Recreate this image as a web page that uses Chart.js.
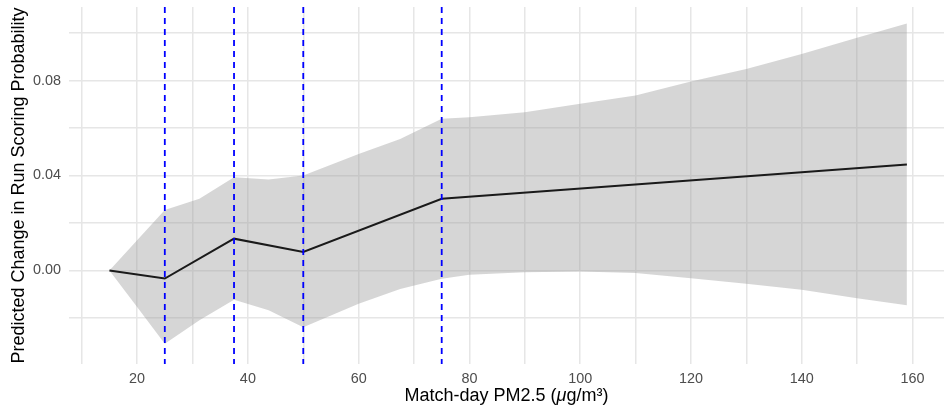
<!DOCTYPE html>
<html>
<head>
<meta charset="utf-8">
<script src="https://cdn.jsdelivr.net/npm/chart.js@4"></script>
<style>
  html, body { margin: 0; padding: 0; background: #fff; }
  #wrap { width: 944px; height: 408px; }
</style>
</head>
<body>
<div id="wrap"><canvas id="pmChart"></canvas></div>
<script>
// fitted effect at each PM2.5 level
const pm25 = [15, 25, 37.5, 50, 75, 159];
const effect = [0, -0.0034, 0.0134, 0.0078, 0.0302, 0.0446];

// confidence band
const bandX = [15, 20, 25, 31.25, 37.5, 43.75, 50, 60, 67.5, 75, 80, 90, 100, 110, 120, 130, 140, 150, 159];
const bandUpper = [0, 0.0127, 0.0255, 0.0302, 0.0393, 0.0383, 0.0400, 0.0491, 0.0554, 0.0639, 0.0646, 0.0667, 0.0702, 0.0737, 0.0796, 0.0849, 0.0912, 0.0980, 0.1041];
const bandLower = [0, -0.0154, -0.0309, -0.0210, -0.0123, -0.0168, -0.0239, -0.0140, -0.0078, -0.0035, -0.0018, -0.0007, -0.0004, -0.0011, -0.0033, -0.0056, -0.0081, -0.0117, -0.0147];

// spline knots (dashed lines)
const knots = [25, 37.5, 50, 75];

const xTicks = [10, 20, 30, 40, 50, 60, 70, 80, 90, 100, 110, 120, 130, 140, 150, 160];
const yTicks = [-0.02, 0, 0.02, 0.04, 0.06, 0.08, 0.10];

// x title pieces, the mu is set in italics
const xTitleParts = [
  { text: 'Match-day PM2.5 (', italic: false },
  { text: '\u03bc', italic: true },
  { text: 'g/m\u00b3)', italic: false }
];

const pts = (xs, ys) => xs.map((x, i) => ({ x: x, y: ys[i] }));

const fontFamily = 'Liberation Sans';
const titleSize = 18;

const knotLines = {
  id: 'knotLines',
  afterDatasetsDraw(chart) {
    const ctx = chart.ctx;
    const area = chart.chartArea;
    const xs = chart.scales.x;
    ctx.save();
    ctx.strokeStyle = '#0000ff';
    ctx.lineWidth = 1.8;
    ctx.setLineDash([6, 5]);
    knots.forEach(k => {
      const px = xs.getPixelForValue(k);
      ctx.beginPath();
      ctx.moveTo(px, area.top);
      ctx.lineTo(px, area.bottom);
      ctx.stroke();
    });
    ctx.restore();
  }
};

const xTitle = {
  id: 'xTitle',
  afterDraw(chart) {
    const ctx = chart.ctx;
    const area = chart.chartArea;
    const xs = chart.scales.x;
    const y = xs.bottom - 1 - titleSize * 0.6;
    ctx.save();
    ctx.fillStyle = '#000';
    ctx.textBaseline = 'middle';
    ctx.textAlign = 'left';
    const fontOf = p => (p.italic ? 'italic ' : '') + titleSize + 'px "' + fontFamily + '"';
    let total = 0;
    xTitleParts.forEach(p => { ctx.font = fontOf(p); total += ctx.measureText(p.text).width; });
    let x = (area.left + area.right) / 2 - total / 2;
    xTitleParts.forEach(p => {
      ctx.font = fontOf(p);
      ctx.fillText(p.text, x, y);
      x += ctx.measureText(p.text).width;
    });
    ctx.restore();
  }
};

const gridColor = '#e6e6e6';
const tickFont = { family: fontFamily, size: 14.4 };
const titleFont = { family: fontFamily, size: titleSize };

new Chart(document.getElementById('pmChart'), {
  type: 'line',
  data: {
    datasets: [{
      label: 'effect',
      data: pts(pm25, effect),
      borderColor: '#1a1a1a',
      borderWidth: 2,
      pointRadius: 0,
      fill: false,
      order: 0
    }, {
      label: 'lower',
      data: pts(bandX, bandLower),
      borderWidth: 0,
      pointRadius: 0,
      fill: false,
      order: 1
    }, {
      label: 'upper',
      data: pts(bandX, bandUpper),
      borderWidth: 0,
      pointRadius: 0,
      backgroundColor: 'rgba(153,153,153,0.4)',
      fill: '-1',
      order: 1
    }]
  },
  options: {
    responsive: true,
    maintainAspectRatio: false,
    animation: false,
    layout: { padding: { top: 7, right: 0, bottom: 0, left: 0 } },
    plugins: {
      legend: { display: false },
      tooltip: { enabled: false }
    },
    scales: {
      x: {
        type: 'linear',
        min: 7.7,
        max: 165.7,
        afterBuildTicks: s => { s.ticks = xTicks.map(v => ({ value: v })); },
        afterFit: s => { s.height = 44; s.paddingLeft = 0; s.paddingRight = 0; },
        border: { display: false },
        grid: { color: gridColor, lineWidth: 1.5, drawTicks: false },
        ticks: {
          autoSkip: false,
          maxRotation: 0,
          padding: 6,
          color: '#4d4d4d',
          font: tickFont,
          callback: v => (v % 20 === 0 ? String(v) : '')
        },
        title: {
          display: true,
          text: 'Match-day PM2.5 (\u03bcg/m\u00b3)',
          color: 'rgba(0,0,0,0)',
          font: titleFont,
          padding: { top: 0, bottom: 1 }
        }
      },
      y: {
        min: -0.0394,
        max: 0.1110,
        afterBuildTicks: s => { s.ticks = yTicks.map(v => ({ value: v })); },
        afterFit: s => { s.width = 69; s.paddingTop = 0; s.paddingBottom = 0; },
        border: { display: false },
        grid: { color: gridColor, lineWidth: 1.5, drawTicks: false },
        ticks: {
          autoSkip: false,
          padding: 8,
          color: '#4d4d4d',
          font: tickFont,
          callback: v => (Math.round(v * 100) % 4 === 0 ? v.toFixed(2) : '')
        },
        title: {
          display: true,
          text: 'Predicted Change in Run Scoring Probability',
          color: '#000',
          font: titleFont,
          padding: { top: 8, bottom: 0 }
        }
      }
    }
  },
  plugins: [knotLines, xTitle]
});
</script>
</body>
</html>
